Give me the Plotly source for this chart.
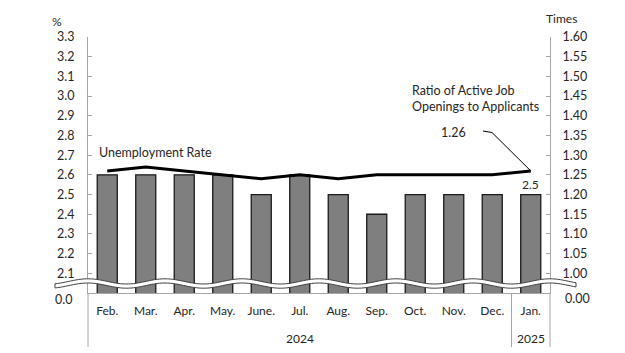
import numpy as np
import plotly.graph_objects as go

months = ["Feb.", "Mar.", "Apr.", "May.", "June.", "Jul.", "Aug.", "Sep.", "Oct.", "Nov.", "Dec.", "Jan."]
years = ["2024", "2025"]
unemployment = [2.6, 2.6, 2.6, 2.6, 2.5, 2.6, 2.5, 2.4, 2.5, 2.5, 2.5, 2.5]
job_ratio = [1.26, 1.27, 1.26, 1.25, 1.24, 1.25, 1.24, 1.25, 1.25, 1.25, 1.25, 1.26]
left_ticks = [2.1, 2.2, 2.3, 2.4, 2.5, 2.6, 2.7, 2.8, 2.9, 3.0, 3.1, 3.2, 3.3]
right_ticks = [1.00, 1.05, 1.10, 1.15, 1.20, 1.25, 1.30, 1.35, 1.40, 1.45, 1.50, 1.55, 1.60]

FONT = "Lato"
TXT = "#262626"
AX = "#a6a6a6"

W, H = 625, 353
ML, MR, MT, MB = 88, 75, 37, 60
PW, PH = W - ML - MR, H - MT - MB

def px2paper_x(px):
    return (px - ML) / PW

def px2paper_y(py):
    return (H - MB - py) / PH

fig = go.Figure()
fig.add_trace(go.Bar(
    x=months, y=unemployment, width=0.52,
    marker=dict(color="#7f7f7f", line=dict(color="#1a1a1a", width=1.3)),
    yaxis="y", showlegend=False,
))
fig.add_trace(go.Scatter(
    x=months, y=job_ratio, mode="lines",
    line=dict(color="black", width=3), yaxis="y2", showlegend=False,
))

fig.update_layout(
    width=W, height=H,
    margin=dict(l=ML, r=MR, t=MT, b=MB),
    plot_bgcolor="white", paper_bgcolor="white",
    font=dict(family=FONT, size=12, color=TXT),
    bargap=0.48,
    xaxis=dict(
        type="category", categoryorder="array", categoryarray=months,
        range=[-0.5, len(months) - 0.5],
        showline=True, linecolor=AX, linewidth=1,
        ticks="outside", ticklen=7, tickcolor="rgba(0,0,0,0)",
        showgrid=False, zeroline=False,
        tickfont=dict(family=FONT, size=12, color=TXT),
    ),
    yaxis=dict(
        range=[2.0, 3.3], tickvals=left_ticks, tickformat=".1f",
        showline=True, linecolor=AX, linewidth=1,
        ticks="inside", ticklen=4, tickcolor=AX,
        showgrid=False, zeroline=False, ticklabelstandoff=10,
        tickfont=dict(family=FONT, size=12.5, color=TXT),
    ),
    yaxis2=dict(
        range=[0.95, 1.60], tickvals=right_ticks, tickformat=".2f",
        overlaying="y", side="right",
        showline=True, linecolor=AX, linewidth=1,
        ticks="inside", ticklen=4, tickcolor=AX,
        showgrid=False, zeroline=False, ticklabelstandoff=9,
        tickfont=dict(family=FONT, size=12.5, color=TXT),
    ),
)

shapes = []
# axis extensions below plot and separator between years
ybot = px2paper_y(347)
shapes.append(dict(type="line", xref="paper", yref="paper", x0=0, x1=0, y0=0, y1=ybot,
                   line=dict(color=AX, width=1)))
shapes.append(dict(type="line", xref="paper", yref="paper", x0=1, x1=1, y0=0, y1=ybot,
                   line=dict(color=AX, width=1)))
shapes.append(dict(type="line", xref="x", yref="paper", x0=len(months) - 1.5, x1=len(months) - 1.5,
                   y0=0, y1=ybot, line=dict(color=AX, width=1)))

# axis break wave (decoration)
xs = np.linspace(55, 576, 200)
amp, half, cy = 2.6, 2.1, 283.5
upper = [(px2paper_x(x), px2paper_y(cy - half - amp * np.cos(2 * np.pi * (x - 165) / 77))) for x in xs]
lower = [(px2paper_x(x), px2paper_y(cy + half - amp * np.cos(2 * np.pi * (x - 165) / 77))) for x in xs[::-1]]
path = "M " + " L ".join(f"{a:.5f},{b:.5f}" for a, b in upper + lower) + " Z"
shapes.append(dict(type="path", xref="paper", yref="paper", path=path,
                   fillcolor="white", line=dict(color="#404040", width=1), layer="above"))

# leader line for 1.26 label
lx0 = (483 - ML) / (PW / len(months)) - 0.5
lx1 = (492 - ML) / (PW / len(months)) - 0.5
ly0 = 1.60 - (131 - MT) / (PH / 0.65)
ly1 = 1.60 - (132.5 - MT) / (PH / 0.65)
shapes.append(dict(type="path", xref="x", yref="y2",
                   path=f"M {lx0},{ly0} L {lx1},{ly1} L {len(months) - 1},{job_ratio[-1]}",
                   line=dict(color="black", width=1)))
fig.update_layout(shapes=shapes)

anns = []
anns.append(dict(text="%", xref="paper", yref="paper", x=px2paper_x(57), y=px2paper_y(21),
                 showarrow=False, xanchor="center", yanchor="middle", font=dict(size=12, color=TXT)))
anns.append(dict(text="Times", xref="paper", yref="paper", x=px2paper_x(561), y=px2paper_y(18),
                 showarrow=False, xanchor="center", yanchor="middle", font=dict(size=12, color=TXT)))
anns.append(dict(text="0.0", xref="paper", yref="paper", x=px2paper_x(74), y=px2paper_y(299),
                 showarrow=False, xanchor="right", yanchor="middle", font=dict(size=12.5, color=TXT)))
anns.append(dict(text="0.00", xref="paper", yref="paper", x=px2paper_x(563), y=px2paper_y(298),
                 showarrow=False, xanchor="left", yanchor="middle", font=dict(size=12.5, color=TXT)))
# year labels
anns.append(dict(text=years[0], xref="x", yref="paper", x=(len(months) - 2) / 2, y=px2paper_y(338),
                 showarrow=False, xanchor="center", yanchor="middle", font=dict(size=12, color=TXT)))
anns.append(dict(text=years[1], xref="x", yref="paper", x=len(months) - 1, y=px2paper_y(338),
                 showarrow=False, xanchor="center", yanchor="middle", font=dict(size=12, color=TXT)))
# series labels
anns.append(dict(text="Unemployment Rate", xref="paper", yref="paper", x=px2paper_x(97), y=px2paper_y(152),
                 showarrow=False, xanchor="left", yanchor="middle", font=dict(size=12.5, color=TXT)))
anns.append(dict(text="Ratio of Active Job<br>Openings to Applicants", xref="paper", yref="paper",
                 x=px2paper_x(410), y=px2paper_y(98.5), align="left",
                 showarrow=False, xanchor="left", yanchor="middle", font=dict(size=12.5, color=TXT)))
anns.append(dict(text=f"{job_ratio[-1]:.2f}", xref="paper", yref="paper", x=px2paper_x(453), y=px2paper_y(132),
                 showarrow=False, xanchor="center", yanchor="middle", font=dict(size=12.5, color=TXT)))
anns.append(dict(text=f"{unemployment[-1]:.1f}", xref="x", yref="y", x=len(months) - 1, y=unemployment[-1],
                 yshift=10, showarrow=False, xanchor="center", yanchor="middle", font=dict(size=12, color=TXT)))
fig.update_layout(annotations=anns)

fig.write_html("out.html")
